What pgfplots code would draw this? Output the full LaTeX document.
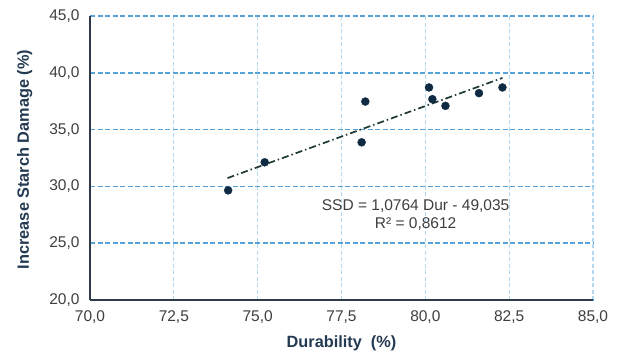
\documentclass[border=0pt]{standalone}
\usepackage{pgfplots}
\pgfplotsset{compat=1.18}
\usepackage{fontspec}
\setmainfont{Liberation Sans}
\definecolor{axisc}{HTML}{2E3B4A}
\definecolor{hgrid}{HTML}{56A3D9}
\definecolor{vgrid}{HTML}{B3D8F2}
\definecolor{markc}{HTML}{0F2A43}
\definecolor{trendc}{HTML}{1F3A36}
\definecolor{tickc}{HTML}{3F3F3F}
\definecolor{labc}{HTML}{233A52}
\begin{document}
\begin{tikzpicture}
\begin{axis}[
  scale only axis,
  width=503pt, height=284pt,
  xmin=70, xmax=85, ymin=20, ymax=45,
  xtick={70,72.5,...,85}, ytick={20,25,...,45},
  axis x line*=bottom, axis y line*=left,
  axis line style={axisc, line width=1.9pt, -},
  major tick length=0pt,
  ymajorgrids, xmajorgrids,
  y grid style={hgrid, line width=1.6pt, dash pattern=on 5pt off 2.5pt},
  x grid style={vgrid, line width=1.3pt, dash pattern=on 4pt off 2.5pt},
  /pgf/number format/.cd, fixed, fixed zerofill, precision=1, use comma, assume math mode=true,
  /pgfplots/.cd,
  ticklabel style={font=\fontsize{15.5}{17}\selectfont, text=tickc},
  xticklabel style={yshift=-7pt},
  yticklabel style={xshift=-7pt},
  xlabel={Durability\ \ (\%)},
  ylabel={Increase Starch Damage (\%)},
  label style={font=\fontsize{16.3}{18}\selectfont\bfseries, text=labc},
  xlabel style={at={(axis description cs:0.5,-0.151)}, anchor=center},
  ylabel style={at={(axis description cs:-0.13,0.495)}, anchor=center},
  clip=false,
]
\addplot[trendc, line width=1.7pt, dash pattern=on 7pt off 3pt on 1.5pt off 3pt]
  coordinates {(74.1,30.73) (82.3,39.55)};
\addplot[only marks, mark=*, mark size=4pt, mark options={fill=markc, draw=markc, line width=0.4pt}]
  coordinates {
  (74.12,29.65) (75.21,32.12) (78.21,37.47) (78.10,33.88)
  (80.11,38.71) (80.21,37.68) (80.60,37.09) (81.60,38.21) (82.30,38.71)};
\node[font=\fontsize{15.5}{18}\selectfont, text=tickc, align=center, inner sep=0pt]
  at (axis cs:79.71,27.5) {SSD = 1,0764 Dur - 49,035\\R² = 0,8612};
\end{axis}
\path (current axis.south west) ++(-90pt,-56pt) coordinate (bbA);
\path (current axis.north east) ++(24pt,16pt) coordinate (bbB);
\pgfresetboundingbox
\path (bbA) rectangle (bbB);
\end{tikzpicture}
\end{document}
